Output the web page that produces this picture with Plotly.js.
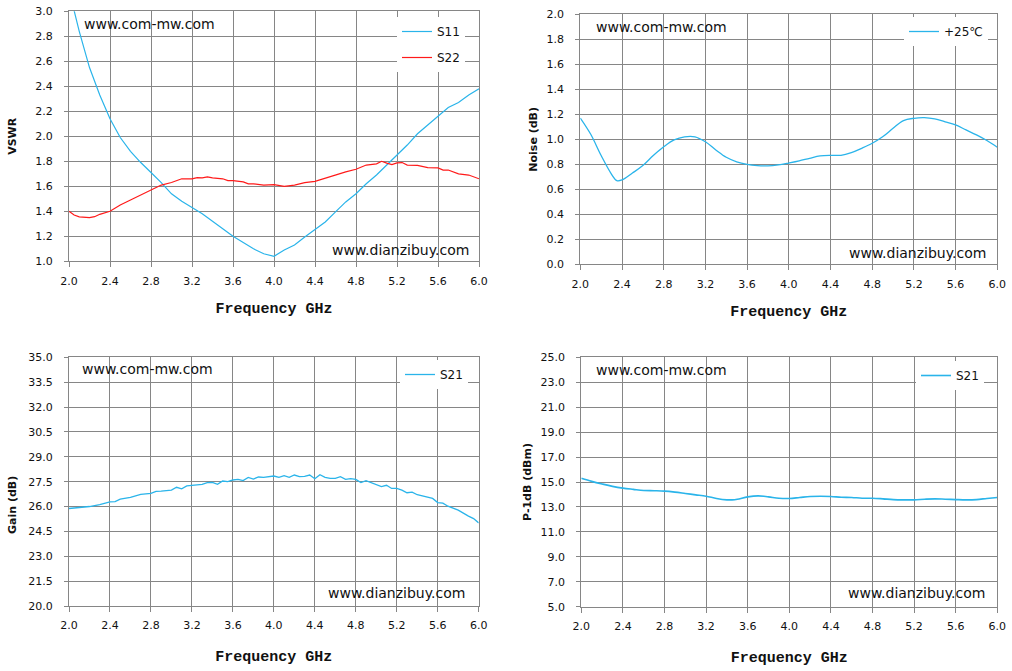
<!DOCTYPE html>
<html>
<head>
<meta charset="utf-8">
<script src="https://cdn.plot.ly/plotly-3.0.1.min.js"></script>
<style>html,body{margin:0;padding:0;background:#fff;}#chart{width:1012px;height:671px;}</style>
</head>
<body>
<div id="chart"></div>
<script>
// ---- Data ----
const s11Freq = [2.0,2.05,2.1,2.2,2.3,2.4,2.5,2.6,2.7,2.8,2.9,3.0,3.1,3.2,3.3,3.4,3.5,3.6,3.7,3.8,3.9,4.0,4.1,4.2,4.3,4.4,4.5,4.6,4.7,4.8,4.9,5.0,5.1,5.2,5.3,5.4,5.5,5.6,5.7,5.8,5.9,6.0];
const s11Vswr = [3.17,3.0,2.84,2.55,2.33,2.14,1.99,1.88,1.79,1.71,1.63,1.54,1.48,1.43,1.38,1.32,1.26,1.20,1.15,1.10,1.06,1.04,1.09,1.13,1.195,1.256,1.315,1.395,1.475,1.54,1.62,1.69,1.77,1.856,1.93,2.02,2.09,2.16,2.23,2.27,2.33,2.38];

const s22Freq = [2.0,2.05,2.1,2.2,2.25,2.3,2.4,2.5,2.6,2.7,2.8,2.9,3.0,3.1,3.2,3.25,3.3,3.35,3.4,3.5,3.55,3.6,3.7,3.75,3.8,3.9,4.0,4.1,4.2,4.3,4.4,4.5,4.6,4.7,4.8,4.9,5.0,5.05,5.1,5.15,5.2,5.25,5.3,5.4,5.5,5.6,5.65,5.7,5.8,5.9,6.0];
const s22Vswr = [1.40,1.37,1.355,1.35,1.357,1.376,1.40,1.45,1.49,1.53,1.57,1.61,1.63,1.66,1.66,1.67,1.667,1.675,1.667,1.66,1.645,1.645,1.635,1.62,1.62,1.61,1.613,1.60,1.61,1.63,1.64,1.667,1.69,1.715,1.736,1.77,1.78,1.80,1.785,1.773,1.787,1.79,1.77,1.768,1.75,1.747,1.73,1.73,1.70,1.69,1.66];

const noiseFreq = [2.0,2.1,2.2,2.3,2.35,2.4,2.5,2.6,2.7,2.8,2.9,3.0,3.1,3.2,3.3,3.4,3.5,3.6,3.7,3.8,3.9,4.0,4.1,4.2,4.3,4.4,4.5,4.6,4.7,4.8,4.9,5.0,5.1,5.2,5.3,5.4,5.5,5.6,5.7,5.8,5.9,6.0];
const noiseDb = [1.17,1.04,0.87,0.72,0.67,0.675,0.73,0.79,0.87,0.94,0.995,1.02,1.02,0.98,0.915,0.856,0.82,0.80,0.79,0.787,0.795,0.81,0.827,0.848,0.867,0.872,0.872,0.893,0.928,0.968,1.02,1.088,1.15,1.168,1.173,1.163,1.14,1.115,1.075,1.035,0.99,0.936];

const gainFreq = [2.0,2.1,2.2,2.3,2.4,2.45,2.5,2.6,2.65,2.7,2.8,2.85,2.9,3.0,3.05,3.1,3.15,3.2,3.3,3.35,3.4,3.45,3.5,3.55,3.6,3.65,3.7,3.75,3.8,3.85,3.9,4.0,4.05,4.1,4.15,4.2,4.25,4.3,4.35,4.4,4.45,4.5,4.55,4.6,4.65,4.7,4.75,4.8,4.85,4.9,4.95,5.0,5.05,5.1,5.15,5.2,5.25,5.3,5.35,5.4,5.5,5.55,5.6,5.65,5.7,5.8,5.9,5.95,6.0];
const gainDb = [25.88,25.94,26.0,26.12,26.28,26.30,26.45,26.55,26.63,26.73,26.79,26.91,26.93,26.99,27.16,27.07,27.24,27.26,27.34,27.44,27.46,27.34,27.54,27.50,27.60,27.64,27.56,27.76,27.66,27.78,27.76,27.84,27.76,27.86,27.76,27.90,27.80,27.82,27.90,27.68,27.92,27.76,27.70,27.70,27.80,27.64,27.68,27.64,27.44,27.56,27.44,27.32,27.20,27.28,27.09,27.09,26.99,26.83,26.87,26.71,26.55,26.49,26.24,26.20,26.02,25.78,25.42,25.27,25.01];

const p1dbFreq = [2.0,2.1,2.2,2.3,2.4,2.5,2.6,2.7,2.8,2.9,3.0,3.1,3.2,3.3,3.4,3.45,3.5,3.6,3.7,3.8,3.9,4.0,4.1,4.2,4.3,4.4,4.5,4.6,4.7,4.8,4.9,5.0,5.1,5.2,5.3,5.4,5.5,5.6,5.7,5.8,5.9,6.0];
const p1dbDbm = [15.3,15.05,14.84,14.65,14.51,14.41,14.32,14.30,14.27,14.19,14.08,13.97,13.86,13.68,13.57,13.57,13.62,13.81,13.89,13.81,13.70,13.68,13.76,13.84,13.86,13.84,13.78,13.76,13.70,13.70,13.65,13.59,13.57,13.57,13.62,13.65,13.62,13.59,13.57,13.59,13.68,13.76];

const seriesNames = ['S11','S22','+25\u2103','S21','S21'];
const xTitle = 'Frequency GHz';
const yTitles = ['VSWR','Noise (dB)','Gain (dB)','P-1dB (dBm)'];
const watermarkTop = 'www.com-mw.com';
const watermarkBottom = 'www.dianzibuy.com';

// ---- Styling ----
const W = 1012, H = 671;
const px = v => v / W;
const py = v => 1 - v / H;
const BLUE = '#2ab4ea', RED = '#ff1a1a', GRID = '#868686';
const tickFont = {family: 'DejaVu Sans, Verdana, sans-serif', size: 11, color: '#111'};
const yTitleFont = {family: 'DejaVu Sans, sans-serif', size: 11, color: '#111'};
const xTitleFont = {family: "'Liberation Mono', 'Courier New', monospace", size: 15, color: '#111'};

function xAxis(dom, anchor, standoff) {
  return {domain: dom, anchor: anchor, range: [2, 6], tick0: 2, dtick: 0.4, tickformat: '.1f',
    showgrid: true, gridcolor: GRID, gridwidth: 1, showline: true, linecolor: GRID, linewidth: 1, mirror: true,
    ticks: 'outside', ticklen: 5, tickcolor: GRID, zeroline: false, tickfont: tickFont, ticklabelstandoff: 4,
    fixedrange: true, automargin: false,
    title: {text: '<b>' + xTitle + '</b>', font: xTitleFont, standoff: standoff}};
}
function yAxis(dom, anchor, range, dtick, title, standoff) {
  return {domain: dom, anchor: anchor, range: range, tick0: range[0], dtick: dtick, tickformat: '.1f',
    showgrid: true, gridcolor: GRID, gridwidth: 1, showline: true, linecolor: GRID, linewidth: 1, mirror: true,
    ticks: 'outside', ticklen: 4, tickcolor: GRID, zeroline: false, tickfont: tickFont, ticklabelstandoff: 9,
    fixedrange: true, automargin: false,
    title: {text: title ? '<b>' + title + '</b>' : '', font: yTitleFont, standoff: standoff}};
}

const traces = [
  {x: s11Freq, y: s11Vswr, name: seriesNames[0], type: 'scatter', mode: 'lines', xaxis: 'x', yaxis: 'y',
   line: {color: BLUE, width: 1.2}, legend: 'legend', legendgroup: 'a'},
  {x: s22Freq, y: s22Vswr, name: seriesNames[1], type: 'scatter', mode: 'lines', xaxis: 'x', yaxis: 'y',
   line: {color: RED, width: 1.2}, legend: 'legend', legendgroup: 'b'},
  {x: noiseFreq, y: noiseDb, name: seriesNames[2], type: 'scatter', mode: 'lines', xaxis: 'x2', yaxis: 'y2',
   line: {color: BLUE, width: 1.3, shape: 'spline'}, legend: 'legend2'},
  {x: gainFreq, y: gainDb, name: seriesNames[3], type: 'scatter', mode: 'lines', xaxis: 'x3', yaxis: 'y3',
   line: {color: BLUE, width: 1.3}, legend: 'legend3'},
  {x: p1dbFreq, y: p1dbDbm, name: seriesNames[4], type: 'scatter', mode: 'lines', xaxis: 'x4', yaxis: 'y4',
   line: {color: BLUE, width: 1.6, shape: 'spline'}, legend: 'legend4'}
];

const legFont = {family: 'DejaVu Sans, sans-serif', size: 12, color: '#111'};
function legendAt(x, y) {
  return {x: px(x), y: py(y), xanchor: 'left', yanchor: 'top', bgcolor: '#ffffff', borderwidth: 0,
    font: legFont, traceorder: 'grouped', tracegroupgap: 7, itemclick: false, itemdoubleclick: false};
}

function wm(text, x, y) {
  return {text: text, x: px(x), y: py(y), xref: 'paper', yref: 'paper', xanchor: 'left', yanchor: 'middle',
    showarrow: false, font: {family: 'DejaVu Sans, Verdana, sans-serif', size: 14, color: '#111'}};
}

const layout = {
  width: W, height: H, margin: {l: 0, r: 0, t: 0, b: 0},
  paper_bgcolor: '#fff', plot_bgcolor: '#fff', showlegend: true,
  xaxis:  xAxis([px(69), px(479)], 'y', 15),
  yaxis:  yAxis([py(261.3), py(11.3)], 'x', [1, 3], 0.2, yTitles[0], 16),
  xaxis2: xAxis([px(580.3), px(997.3)], 'y2', 15),
  yaxis2: yAxis([py(264.3), py(14.3)], 'x2', [0, 2], 0.2, yTitles[1], 6),
  xaxis3: xAxis([px(69), px(478.7)], 'y3', 19),
  yaxis3: yAxis([py(606), py(357.3)], 'x3', [20, 35], 1.5, '', 10),
  xaxis4: xAxis([px(581.3), px(997.3)], 'y4', 19),
  yaxis4: yAxis([py(606.7), py(357.3)], 'x4', [5, 25], 2, yTitles[3], 6),
  legend:  legendAt(397, 17),
  legend2: legendAt(904, 17),
  legend3: legendAt(400, 360),
  legend4: legendAt(916, 361),
  annotations: [
    wm(watermarkTop, 82, 24), wm(watermarkBottom, 330, 250),
    wm(watermarkTop, 594, 27), wm(watermarkBottom, 847, 253),
    wm(watermarkTop, 80, 369), wm(watermarkBottom, 326, 593),
    wm(watermarkTop, 594, 370), wm(watermarkBottom, 846, 593),
    {text: '<b>' + yTitles[2] + '</b>', x: px(12), y: py(505), xref: 'paper', yref: 'paper',
     xanchor: 'center', yanchor: 'middle', textangle: -90, showarrow: false, font: yTitleFont}
  ]
};

Plotly.newPlot('chart', traces, layout, {displayModeBar: false, staticPlot: true});
</script>
</body>
</html>
